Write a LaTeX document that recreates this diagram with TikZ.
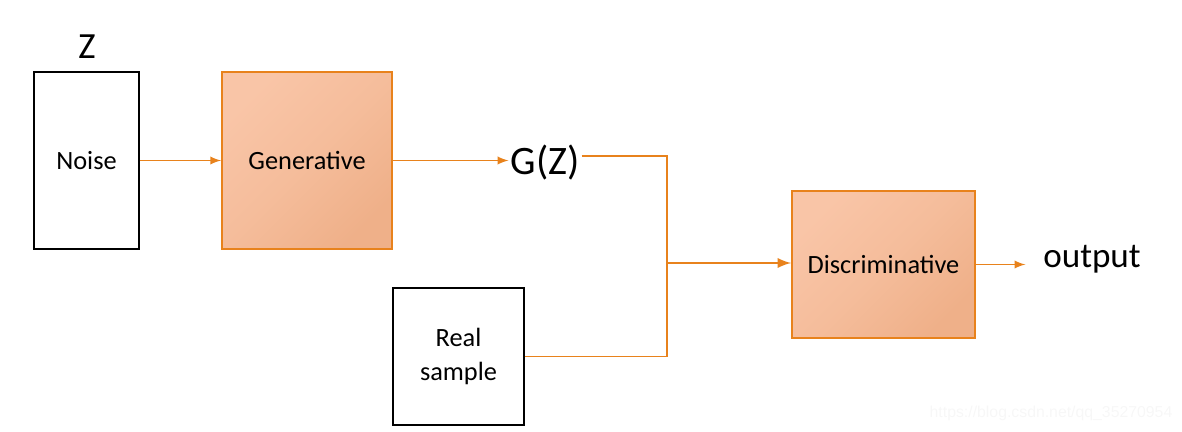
\documentclass[tikz,border=0pt]{standalone}
\usepackage{fontspec}
\setmainfont{Carlito}
\newfontfamily\markfont{Liberation Sans}
\usepackage{xcolor}
\definecolor{edge}{HTML}{E8821C}
\definecolor{peachA}{HTML}{F9C5A7}
\definecolor{peachB}{HTML}{EFB089}

\begin{document}
\begin{tikzpicture}[x=0.02cm,y=-0.02cm,
  plain/.style={draw=black,line width=1.1pt,fill=white,inner sep=0pt,align=center,font=\fontsize{15}{19}\selectfont},
  peach/.style={draw=edge,line width=1.1pt,inner sep=0pt,top color=peachA,bottom color=peachB,middle color=peachA!60!peachB,shading angle=45,font=\fontsize{15}{19}\selectfont},
  link/.style={draw=edge,line width=1.1pt,>=latex}]
\useasboundingbox (0,0) rectangle (1182,432);

\node[plain,minimum width=2.1cm,minimum height=3.54cm](1) at(86.5,160.5){Noise};
\node[peach,minimum width=3.4cm,minimum height=3.54cm](2) at(307,160.5){Generative};
\node[font=\fontsize{21}{24}\selectfont](3) at(87,47){Z};
\node[inner sep=1pt,font=\fontsize{23}{26}\selectfont](4) at(545,163){G(Z)};
\node[peach,minimum width=3.66cm,minimum height=2.94cm](5) at(883.5,264.5){Discriminative};
\node[plain,minimum width=2.62cm,minimum height=2.74cm](6) at(458.5,356.5){Real\\sample};
\node[inner sep=1pt,font=\fontsize{20}{24}\selectfont](7) at(1092,259){output};
\coordinate(8) at(667,263);
\node[text=gray!6,font=\markfont\fontsize{9}{11}\selectfont](9) at(1051,413){https://blog.csdn.net/qq\_35270954};

\draw [link,->](1)--(2);
\draw [link,->](2.east)--(4.west |- 2.east);
\draw [link]([yshift=4pt]4.east) -| (8);
\draw [link](6.east) -| (8);
\draw [link,->,line width=1.6pt](8)--(5.west |- 8);
\draw [link,->,shorten >=9pt](5.east)--(7.west |- 5.east);
\end{tikzpicture}
\end{document}
